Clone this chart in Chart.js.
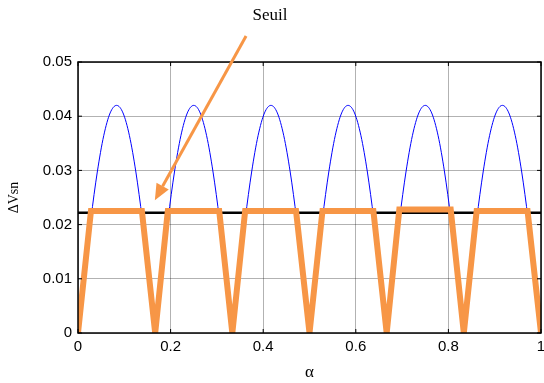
<!DOCTYPE html>
<html>
<head>
<meta charset="utf-8">
<script src="https://cdn.jsdelivr.net/npm/chart.js@4"></script>
<style>
  html, body { margin: 0; padding: 0; background: #fff; }
  #wrap { width: 544px; height: 383px; }
</style>
</head>
<body>
<div id="wrap"><canvas id="chart"></canvas></div>
<script>
// blue curve, sampled every 1/72 of alpha
const blueX = [];
for (let i = 0; i <= 72; i++) blueX.push(i / 72);
const blueY = [
  0, 0.0109, 0.021, 0.0297, 0.0364, 0.0406, 0.042, 0.0406, 0.0364, 0.0297, 0.021, 0.0109,
  0, 0.0109, 0.021, 0.0297, 0.0364, 0.0406, 0.042, 0.0406, 0.0364, 0.0297, 0.021, 0.0109,
  0, 0.0109, 0.021, 0.0297, 0.0364, 0.0406, 0.042, 0.0406, 0.0364, 0.0297, 0.021, 0.0109,
  0, 0.0109, 0.021, 0.0297, 0.0364, 0.0406, 0.042, 0.0406, 0.0364, 0.0297, 0.021, 0.0109,
  0, 0.0109, 0.021, 0.0297, 0.0364, 0.0406, 0.042, 0.0406, 0.0364, 0.0297, 0.021, 0.0109,
  0, 0.0109, 0.021, 0.0297, 0.0364, 0.0406, 0.042, 0.0406, 0.0364, 0.0297, 0.021, 0.0109,
  0
];

// orange clipped signal
const orangeX = [0, 0.028, 0.138, 0.1667, 0.194, 0.305, 0.3333, 0.361, 0.471, 0.5,
                 0.528, 0.638, 0.6667, 0.694, 0.805, 0.8333, 0.861, 0.971, 1.0];
const orangeY = [0, 0.0225, 0.0225, 0, 0.0225, 0.0225, 0, 0.0225, 0.0225, 0,
                 0.0225, 0.0225, 0, 0.0228, 0.0228, 0, 0.0225, 0.0225, 0];

// threshold
const seuil = 0.0222;

const xTicks = [0, 0.2, 0.4, 0.6, 0.8, 1];
const yTicks = [0, 0.01, 0.02, 0.03, 0.04, 0.05];

// arrow of the "Seuil" note, in data units
const arrowFrom = { x: 0.363, y: 0.0548 };
const arrowTo = { x: 0.166, y: 0.0245 };

const toPts = (xs, ys) => xs.map((x, i) => ({ x: x, y: ys[i] }));

const frameAndNote = {
  id: "frameAndNote",
  afterDatasetsDraw(chart) {
    const ctx = chart.ctx;
    const a = chart.chartArea;
    const xs = chart.scales.x;
    const ys = chart.scales.y;
    ctx.save();
    // box
    ctx.strokeStyle = "#000";
    ctx.lineWidth = 1.5;
    ctx.strokeRect(a.left, a.top, a.right - a.left, a.bottom - a.top);
    // inward ticks
    ctx.lineWidth = 1;
    xTicks.forEach(t => {
      const px = xs.getPixelForValue(t);
      ctx.beginPath();
      ctx.moveTo(px, a.bottom); ctx.lineTo(px, a.bottom - 4);
      ctx.moveTo(px, a.top); ctx.lineTo(px, a.top + 4);
      ctx.stroke();
    });
    yTicks.forEach(t => {
      const py = ys.getPixelForValue(t);
      ctx.beginPath();
      ctx.moveTo(a.left, py); ctx.lineTo(a.left + 4, py);
      ctx.moveTo(a.right, py); ctx.lineTo(a.right - 4, py);
      ctx.stroke();
    });
    // arrow
    const x1 = xs.getPixelForValue(arrowFrom.x), y1 = ys.getPixelForValue(arrowFrom.y);
    const x2 = xs.getPixelForValue(arrowTo.x), y2 = ys.getPixelForValue(arrowTo.y);
    const ang = Math.atan2(y2 - y1, x2 - x1);
    const hl = 16, hw = 7;
    const bx = x2 - hl * Math.cos(ang), by = y2 - hl * Math.sin(ang);
    ctx.strokeStyle = "#F79646";
    ctx.fillStyle = "#F79646";
    ctx.lineWidth = 3;
    ctx.beginPath();
    ctx.moveTo(x1, y1); ctx.lineTo(bx, by);
    ctx.stroke();
    ctx.beginPath();
    ctx.moveTo(x2, y2);
    ctx.lineTo(bx + hw * Math.sin(ang), by - hw * Math.cos(ang));
    ctx.lineTo(bx - hw * Math.sin(ang), by + hw * Math.cos(ang));
    ctx.closePath();
    ctx.fill();
    // label
    ctx.fillStyle = "#000";
    ctx.font = "17px 'Liberation Serif'";
    ctx.textAlign = "center";
    ctx.textBaseline = "middle";
    ctx.fillText("Seuil", 270, 16);
    ctx.restore();
  }
};

new Chart(document.getElementById("chart"), {
  type: "line",
  data: {
    datasets: [
      {
        data: toPts(orangeX, orangeY),
        borderColor: "#F79646",
        borderWidth: 6,
        pointRadius: 0,
        borderJoinStyle: "miter",
        order: 1,
      },
      {
        data: [{ x: 0, y: seuil }, { x: 1, y: seuil }],
        borderColor: "#000",
        borderWidth: 2.5,
        pointRadius: 0,
        order: 2,
      },
      {
        data: toPts(blueX, blueY),
        borderColor: "#0000FF",
        borderWidth: 1,
        pointRadius: 0,
        cubicInterpolationMode: "monotone",
        order: 3,
      },
    ],
  },
  options: {
    responsive: true,
    maintainAspectRatio: false,
    animation: false,
    layout: { padding: { top: 62, right: 3, left: 0, bottom: 0 } },
    plugins: {
      legend: { display: false },
      tooltip: { enabled: false },
    },
    scales: {
      x: {
        type: "linear",
        min: 0,
        max: 1,
        afterBuildTicks: s => { s.ticks = xTicks.map(v => ({ value: v })); },
        afterFit: s => { s.height = 50; s.paddingLeft = 0; s.paddingRight = 0; },
        grid: { color: "rgba(0,0,0,0.3)", drawTicks: false },
        border: { display: false },
        ticks: {
          color: "#000",
          font: { family: "'Liberation Sans'", size: 15 },
          padding: 5,
          maxRotation: 0,
          callback: v => String(v),
        },
        title: {
          display: true,
          text: "α",
          color: "#000",
          font: { family: "'Liberation Serif'", size: 17 },
          padding: { top: 0, bottom: 0 },
        },
      },
      y: {
        type: "linear",
        min: 0,
        max: 0.05,
        afterBuildTicks: s => { s.ticks = yTicks.map(v => ({ value: v })); },
        afterFit: s => { s.width = 78; },
        grid: { color: "rgba(0,0,0,0.3)", drawTicks: false },
        border: { display: false },
        ticks: {
          color: "#000",
          font: { family: "'Liberation Sans'", size: 15 },
          padding: 6,
          callback: v => String(v),
        },
        title: {
          display: true,
          text: "ΔVsn",
          color: "#000",
          font: { family: "'Liberation Serif'", size: 14 },
          padding: { top: 6, bottom: 8 },
        },
      },
    },
  },
  plugins: [frameAndNote],
});
</script>
</body>
</html>
